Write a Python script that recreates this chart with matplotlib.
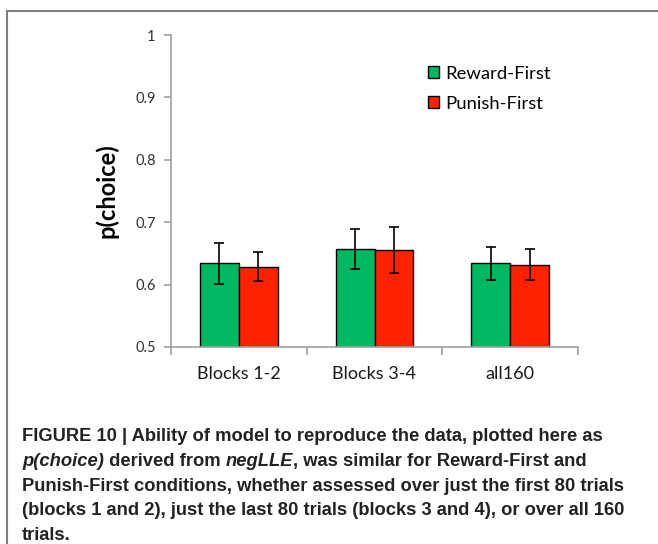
import numpy as np
import matplotlib.pyplot as plt
from matplotlib.patches import Rectangle
from matplotlib.transforms import offset_copy

categories = ["Blocks 1-2", "Blocks 3-4", "all160"]
reward_first = [0.634, 0.657, 0.634]
reward_err = [0.033, 0.032, 0.027]
punish_first = [0.629, 0.655, 0.632]
punish_err = [0.024, 0.037, 0.025]

# caption lines, pieces marked True are italic
caption_lines = [
    [("FIGURE 10 | Ability of model to reproduce the data, plotted here as", False)],
    [("p(choice)", True), (" derived from ", False), ("negLLE", True),
     (", was similar for Reward-First and", False)],
    [("Punish-First conditions, whether assessed over just the first 80 trials", False)],
    [("(blocks 1 and 2), just the last 80 trials (blocks 3 and 4), or over all 160", False)],
    [("trials.", False)],
]

green = "#00b862"
red = "#ff2200"
axcol = "#a0a0a0"

fig = plt.figure(figsize=(6.58, 5.44), dpi=100)
ax = fig.add_axes([171 / 658, 1 - 347 / 544, 407 / 658, 312 / 544])

x = np.arange(len(categories)) + 0.5
w = 0.287
ax.bar(x - w / 2, reward_first, w, color=green, edgecolor="black", linewidth=1,
       yerr=reward_err, capsize=3.8, error_kw=dict(elinewidth=1.2, capthick=1.2),
       label="Reward-First", zorder=2)
ax.bar(x + w / 2, punish_first, w, color=red, edgecolor="black", linewidth=1,
       yerr=punish_err, capsize=3.8, error_kw=dict(elinewidth=1.2, capthick=1.2),
       label="Punish-First", zorder=2)

ax.set_xlim(0, 3)
ax.set_ylim(0.5, 1.0)
ax.set_yticks(np.arange(0.5, 1.01, 0.1))
ax.set_yticklabels(["0.5", "0.6", "0.7", "0.8", "0.9", "1"])
ax.set_xticks([0, 1, 2, 3])
ax.set_xticklabels([])
ax.set_xticks(x, minor=True)
ax.set_xticklabels(categories, minor=True, fontsize=13, family="Lato", color="#1a1a1a")
ax.tick_params(axis="x", which="minor", length=0, pad=14)
ax.tick_params(axis="x", which="major", length=6, color=axcol, width=1.2)
ax.tick_params(axis="y", length=5, color=axcol, width=1.2, labelsize=10.5,
               labelcolor="#333333", pad=6)
for lab in ax.get_yticklabels():
    lab.set_family("Lato")
for s in ["top", "right"]:
    ax.spines[s].set_visible(False)
ax.spines["left"].set_color(axcol)
ax.spines["bottom"].set_color(axcol)
ax.spines["left"].set_linewidth(1.2)
ax.spines["bottom"].set_linewidth(1.2)

ax.set_ylabel("p(choice)", fontsize=17, fontweight="bold", family="Lato", labelpad=12)

handles = [Rectangle((0, 0), 1, 1, facecolor=green, edgecolor="black", linewidth=1),
           Rectangle((0, 0), 1, 1, facecolor=red, edgecolor="black", linewidth=1)]
leg = ax.legend(handles, ["Reward-First", "Punish-First"], loc="upper left",
                bbox_to_anchor=(0.59, 0.955), frameon=False, handlelength=0.62,
                handleheight=0.62, handletextpad=0.35, labelspacing=0.75,
                prop=dict(family="Lato", size=13.3))

# outer box
fig.add_artist(plt.Line2D([7 / 658, 1], [1 - 10.5 / 544, 1 - 10.5 / 544],
                          color="#808080", linewidth=1.5))
fig.add_artist(plt.Line2D([7 / 658, 7 / 658], [0, 1 - 10.5 / 544],
                          color="#808080", linewidth=1.5))

# caption, drawn piece by piece so the italic words sit inline
renderer = fig.canvas.get_renderer()
for i, line in enumerate(caption_lines):
    y = 1 - (441 + i * 24.8) / 544
    trans = fig.transFigure
    for txt, ital in line:
        t = fig.text(22 / 658, y, txt, transform=trans, fontsize=13.2,
                     fontweight="bold", fontstyle="italic" if ital else "normal",
                     family="Liberation Sans", color="#222222",
                     va="baseline", ha="left")
        ext = t.get_window_extent(renderer)
        trans = offset_copy(trans, fig=fig, x=ext.width, y=0, units="dots")

fig.savefig("out.png", dpi=100)
